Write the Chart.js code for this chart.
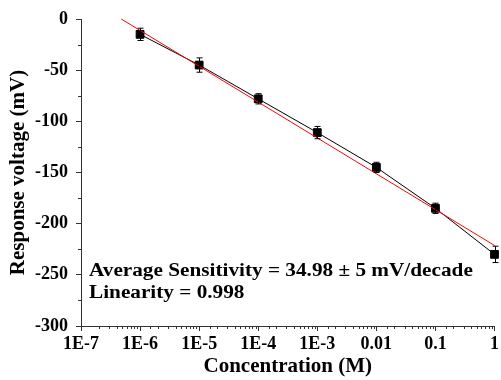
<!DOCTYPE html>
<html>
<head>
<meta charset="utf-8">
<script src="https://cdn.jsdelivr.net/npm/chart.js@4/dist/chart.umd.min.js"></script>
<style>
  html, body { margin: 0; padding: 0; background: #fff; }
</style>
</head>
<body>
<canvas id="chart" width="501" height="380"></canvas>
<script>
// measured points (mean ± error)
const concentrations = [1e-6, 1e-5, 1e-4, 1e-3, 0.01, 0.1, 1];
const responses = [-15, -45, -78, -111, -145, -185, -230];
const errors = [6, 7, 5, 6, 5, 5, 8];

// linear fit ends (red line)
const fitX = [4.8e-7, 1];
const fitY = [0, -221.3];

const xTickValues = [1e-7, 1e-6, 1e-5, 1e-4, 1e-3, 0.01, 0.1, 1];
const xTickLabels = ['1E-7', '1E-6', '1E-5', '1E-4', '1E-3', '0.01', '0.1', '1'];

const annotations = ['Average Sensitivity = 34.98 \u00b1 5 mV/decade', 'Linearity = 0.998'];

const serif = "'Liberation Serif', 'Times New Roman', serif";
const axisColor = '#333';

function majorIndex(v) {
  return xTickValues.findIndex(t => Math.abs(t - v) / t < 1e-6);
}

// error bars, minor ticks and the text box
const extras = {
  id: 'extras',
  afterDatasetsDraw(chart) {
    const ctx = chart.ctx;
    const xs = chart.scales.x, ys = chart.scales.y;
    ctx.save();
    ctx.strokeStyle = '#000';
    ctx.lineWidth = 1;
    concentrations.forEach((c, i) => {
      const x = Math.round(xs.getPixelForValue(c)) + 0.5;
      const top = ys.getPixelForValue(responses[i] + errors[i]);
      const bot = ys.getPixelForValue(responses[i] - errors[i]);
      ctx.beginPath();
      ctx.moveTo(x, top); ctx.lineTo(x, bot);
      ctx.moveTo(x - 3, top); ctx.lineTo(x + 3, top);
      ctx.moveTo(x - 3, bot); ctx.lineTo(x + 3, bot);
      ctx.stroke();
    });
    ctx.restore();
  },
  afterDraw(chart) {
    const ctx = chart.ctx;
    const xs = chart.scales.x, ys = chart.scales.y;
    const area = chart.chartArea;
    ctx.save();
    ctx.strokeStyle = axisColor;
    ctx.lineWidth = 1;
    ctx.beginPath();
    xs.ticks.forEach(t => {
      if (majorIndex(t.value) >= 0) return;
      const x = Math.round(xs.getPixelForValue(t.value)) + 0.5;
      ctx.moveTo(x, area.bottom); ctx.lineTo(x, area.bottom + 3);
    });
    ys.ticks.forEach(t => {
      if (t.value % 50 === 0) return;
      const y = Math.round(ys.getPixelForValue(t.value)) + 0.5;
      ctx.moveTo(area.left, y); ctx.lineTo(area.left - 3, y);
    });
    ctx.stroke();

    // the printed text is a little wider than the font, so stretch it
    ctx.fillStyle = '#000';
    ctx.font = 'bold 18px ' + serif;
    ctx.textBaseline = 'alphabetic';
    ctx.translate(area.left + 8, 0);
    ctx.scale(1.18, 1);
    ctx.fillText(annotations[0], 0, area.bottom - 50);
    ctx.fillText(annotations[1], 0, area.bottom - 28);
    ctx.restore();
  }
};

new Chart(document.getElementById('chart'), {
  type: 'line',
  data: {
    datasets: [
      {
        label: 'Fit',
        data: fitX.map((x, i) => ({ x: x, y: fitY[i] })),
        borderColor: '#ff0000',
        borderWidth: 1,
        pointRadius: 0,
        clip: false
      },
      {
        label: 'Response',
        data: concentrations.map((c, i) => ({ x: c, y: responses[i] })),
        borderColor: '#000',
        borderWidth: 1,
        pointStyle: 'rect',
        pointRadius: 5.5,
        pointBorderWidth: 1,
        pointBackgroundColor: '#000',
        pointBorderColor: '#000',
        clip: false
      }
    ]
  },
  options: {
    responsive: false,
    animation: false,
    devicePixelRatio: 1,
    layout: { padding: { top: 19, right: 4, left: 0, bottom: 0 } },
    plugins: { legend: { display: false }, tooltip: { enabled: false } },
    scales: {
      x: {
        type: 'logarithmic',
        min: 1e-7,
        max: 1,
        afterFit: s => { s.height = 54; s.paddingRight = 4; },
        border: { display: true, color: axisColor, width: 1 },
        grid: {
          drawOnChartArea: false,
          drawTicks: true,
          tickLength: 5,
          tickColor: c => (c.tick && majorIndex(c.tick.value) >= 0) ? axisColor : 'rgba(0,0,0,0)'
        },
        ticks: {
          autoSkip: false,
          maxRotation: 0,
          padding: 3,
          color: '#000',
          font: { family: serif, size: 18, weight: 'bold' },
          callback: v => {
            const k = majorIndex(v);
            return k >= 0 ? xTickLabels[k] : '';
          }
        },
        title: {
          display: true,
          text: 'Concentration (M)',
          color: '#000',
          font: { family: serif, size: 21, weight: 'bold' },
          padding: { top: 0, bottom: 1 }
        }
      },
      y: {
        min: -300,
        max: 0,
        afterFit: s => { s.width = 81; },
        border: { display: true, color: axisColor, width: 1 },
        grid: {
          drawOnChartArea: false,
          drawTicks: true,
          tickLength: 5,
          tickColor: c => (c.tick && c.tick.value % 50 === 0) ? axisColor : 'rgba(0,0,0,0)'
        },
        ticks: {
          stepSize: 25,
          autoSkip: false,
          padding: 8,
          color: '#000',
          font: { family: serif, size: 18, weight: 'bold' },
          callback: v => (v % 50 === 0 ? String(v) : '')
        },
        title: {
          display: true,
          text: 'Response voltage (mV)',
          color: '#000',
          font: { family: serif, size: 21, weight: 'bold' },
          padding: { top: 6, bottom: 0 }
        }
      }
    }
  },
  plugins: [extras]
});
</script>
</body>
</html>
